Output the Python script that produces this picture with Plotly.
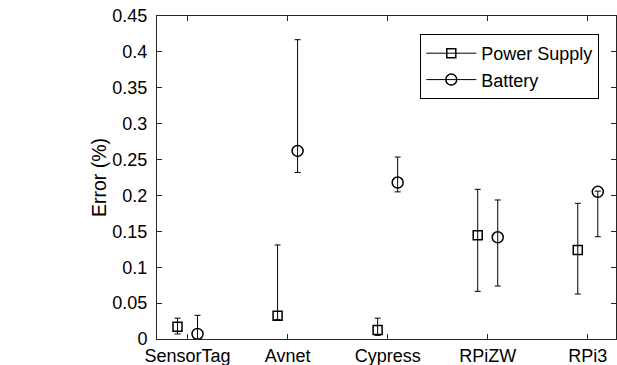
import plotly.graph_objects as go

categories = ["SensorTag", "Avnet", "Cypress", "RPiZW", "RPi3"]
positions = [1, 2, 3, 4, 5]

ps_values = [0.017, 0.0325, 0.0125, 0.1445, 0.124]
ps_upper = [0.029, 0.131, 0.029, 0.2085, 0.189]
ps_lower = [0.007, 0.027, 0.005, 0.0664, 0.0627]

bat_values = [0.007, 0.262, 0.218, 0.1417, 0.205]
bat_upper = [0.033, 0.417, 0.2535, 0.1937, 0.206]
bat_lower = [0.0, 0.232, 0.205, 0.0738, 0.1425]

yticks = [0, 0.05, 0.1, 0.15, 0.2, 0.25, 0.3, 0.35, 0.4, 0.45]
ytick_labels = ["0", "0.05", "0.1", "0.15", "0.2", "0.25", "0.3", "0.35", "0.4", "0.45"]

offset = 0.1
font_family = "Liberation Sans, Arial, Helvetica, sans-serif"

fig = go.Figure()

def add_series(name, vals, up, lo, symbol, shift, size):
    xs = [p + shift for p in positions]
    fig.add_trace(go.Scatter(
        x=xs, y=vals, mode="markers", name=name, showlegend=False,
        marker=dict(symbol=symbol, size=size, color="black",
                    line=dict(color="black", width=1.5)),
        error_y=dict(type="data", symmetric=False,
                     array=[u - v for u, v in zip(up, vals)],
                     arrayminus=[v - l for v, l in zip(vals, lo)],
                     color="black", thickness=1, width=3),
    ))
    fig.add_trace(go.Scatter(
        x=[None], y=[None], mode="lines+markers", name=name,
        line=dict(color="black", width=1),
        marker=dict(symbol=symbol, size=size, color="black",
                    line=dict(color="black", width=1.5)),
    ))

add_series("Power Supply", ps_values, ps_upper, ps_lower, "square-open", -offset, 9)
add_series("Battery", bat_values, bat_upper, bat_lower, "circle-open", offset, 11)

W, H = 617, 365
plot_l, plot_r, plot_t, plot_b = 157, 615.7, 16, 339

fig.update_layout(
    width=W, height=H,
    margin=dict(l=plot_l, r=W - plot_r, t=plot_t, b=H - plot_b, autoexpand=False),
    paper_bgcolor="white", plot_bgcolor="white",
    font=dict(family=font_family, size=18, color="black"),
    xaxis=dict(range=[0.695, 5.282], tickvals=positions, ticktext=categories,
               ticks="inside", ticklen=5, tickcolor="#262626", showgrid=False,
               zeroline=False, showline=True, linecolor="#262626", linewidth=1,
               mirror="ticks", tickfont=dict(size=18), ticklabeloverflow="allow"),
    yaxis=dict(range=[0, 0.45], tickvals=yticks, ticktext=ytick_labels,
               ticks="inside", ticklen=5, tickcolor="#262626", showgrid=False,
               zeroline=False, showline=True, linecolor="#262626", linewidth=1,
               mirror="ticks", tickfont=dict(size=18), ticklabelstandoff=5,
               ticklabeloverflow="allow",
               title=dict(text="Error (%)", font=dict(size=19.5), standoff=0)),
    legend=dict(x=(599 - plot_l) / (plot_r - plot_l), xanchor="right",
                y=1 - (34 - plot_t) / (plot_b - plot_t), yanchor="top",
                bordercolor="black", borderwidth=1, bgcolor="white",
                font=dict(size=18), tracegroupgap=0, itemwidth=50),
)

fig.write_html("out.html",
               config={"displayModeBar": False},
               post_script="document.body.style.margin='0';document.body.style.overflow='hidden';")
